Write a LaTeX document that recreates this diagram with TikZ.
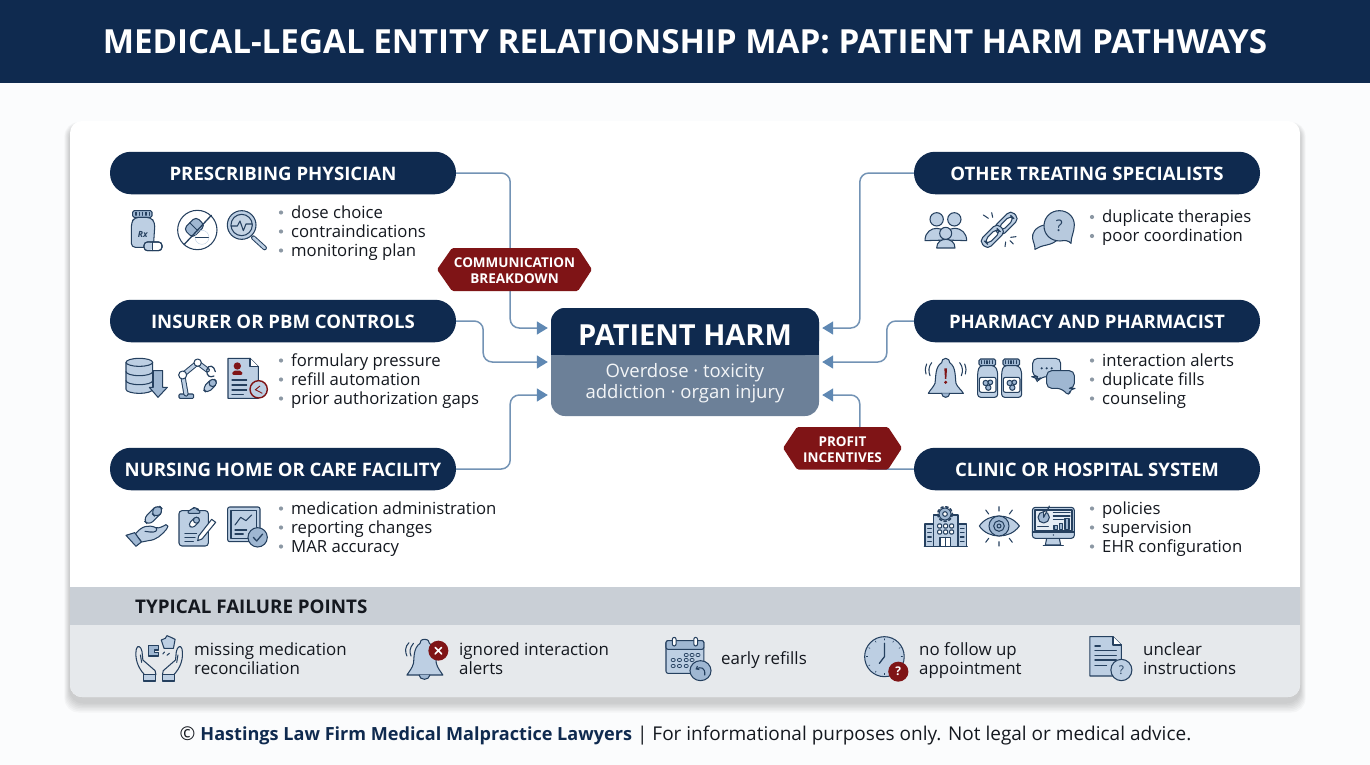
\documentclass[tikz,border=0pt]{standalone}
\usepackage{fontspec}
\usepackage{graphicx}
\setmainfont{Open Sans}
\usetikzlibrary{arrows.meta,calc}
\definecolor{navy}{HTML}{0F2A4F}
\definecolor{page}{HTML}{FBFCFD}
\definecolor{strip}{HTML}{C9CFD6}
\definecolor{stripl}{HTML}{E6E9EC}
\definecolor{hubl}{HTML}{6C8098}
\definecolor{conn}{HTML}{7393B5}
\definecolor{arrowc}{HTML}{5F88B3}
\definecolor{wine}{HTML}{7F1416}
\definecolor{icd}{HTML}{25405F}
\definecolor{icl}{HTML}{BDCFE3}
\definecolor{icm}{HTML}{9FB7D2}
\definecolor{txt}{HTML}{14181F}
\definecolor{bul}{HTML}{8C98A4}
\tikzset{
 zoomA/.style 2 args={x=0.33333pt,y=-0.33333pt,shift={(#1pt,-#2pt)}},
 ic/.style={draw=icd,fill=icl,line width=1.05pt,line join=round,line cap=round},
 icm/.style={ic,fill=icm},
 icw/.style={ic,fill=white},
 icn/.style={draw=icd,line width=1.05pt,line cap=round,line join=round},
 pill/.style={fill=navy,rounded corners=21pt,minimum width=346pt,minimum height=42.5pt,inner sep=0pt},
 pilltxt/.style={text=white,font=\fontsize{18.6}{20}\selectfont\bfseries,inner sep=0pt,yshift=-1pt},
 listtxt/.style={text=txt,font=\fontsize{16.7}{19}\selectfont,anchor=base west,inner sep=0pt},
 failtxt/.style={text=txt,font=\fontsize{16.9}{19}\selectfont,anchor=base west,inner sep=0pt},
 badgetxt/.style={text=white,font=\fontsize{13.5}{15}\selectfont\bfseries,anchor=base,inner sep=0pt},
 conline/.style={draw=conn,line width=1.5pt,rounded corners=9pt,-{Triangle[length=11pt,width=13pt,fill=arrowc,color=arrowc]}},
 badge/.style={fill=wine,rounded corners=1.5pt},
 glyph/.style={inner sep=0pt,font=\fontsize{8}{8}\selectfont},
}
\newcommand{\listitem}[4]{%
 \fill[bul] (#2-10,#3-5.5) circle (2.1);
 \node[listtxt] (#1) at (#2,#3) {#4};}
\newcommand{\failitem}[4]{\node[failtxt] (#1) at (#2,#3) {#4};}
% bottle in zoom coordinates: left x, top y
\newcommand{\smallbottle}[2]{%
 \begin{scope}[shift={(#1,#2)}]
 \draw[icm,rounded corners=1.5pt] (4,0) rectangle (54,20);
 \foreach \k in {12,20,28,36,44}{\draw[icn] (\k,5)--(\k,14);}
 \draw[ic,rounded corners=3pt] (6,20) -- (0,38) -- (0,115) -- (60,115) -- (60,38) -- (52,20) -- cycle;
 \draw[icn,fill=white,rounded corners=2pt] (5,55) rectangle (55,100);
 \draw[icm] (24,72) circle (8); \draw[icm] (38,70) circle (7); \draw[icm] (32,86) circle (8);
 \end{scope}}
\begin{document}
\begin{tikzpicture}[x=1pt,y=-1pt]
\useasboundingbox (0,0) rectangle (1370,765);
\fill[page] (0,0) rectangle (1370,765);
% header
\fill[navy] (0,0) rectangle (1370,83.5);
\node[text=white,font=\fontsize{33.2}{36}\selectfont\bfseries,anchor=base,inner sep=0pt] (title) at (685,53.5) {MEDICAL-LEGAL ENTITY RELATIONSHIP MAP: PATIENT HARM PATHWAYS};
% card shadow
\foreach \d in {14,12,10,8,6,4,2}{
 \fill[black,fill opacity=.028,rounded corners=14pt] (70-\d*.4,121+4-\d*.2) rectangle (1300+\d*.4,697+5+\d*.75);}
\fill[white,rounded corners=12pt] (70,121) rectangle (1300,697);
\begin{scope}
 \clip[rounded corners=12pt] (70,121) rectangle (1300,697);
 \fill[strip] (70,587) rectangle (1300,624.5);
 \fill[stripl] (70,624.5) rectangle (1300,697);
\end{scope}
\node[text=txt,font=\fontsize{18.8}{20}\selectfont\bfseries,anchor=base west,inner sep=0pt] (failhead) at (135,613) {TYPICAL FAILURE POINTS};
% pills
\node[pill] (p1) at (283,173) {};
\node[pill] (p2) at (283,321) {};
\node[pill] (p3) at (283,469) {};
\node[pill] (q1) at (1087,173) {};
\node[pill] (q2) at (1087,321) {};
\node[pill] (q3) at (1087,469) {};
% hub
\node[fill=hubl,rounded corners=14pt,minimum width=268pt,minimum height=108pt,inner sep=0pt] (hub) at (685,362) {};
\fill[navy,rounded corners=14pt] (551,355) -- (551,308) -- (819,308) -- (819,355) -- cycle;
\fill[navy] (551,340) rectangle (819,355);
% connectors
\draw[conline] (p1.east) -- ++(54,0) |- ([xshift=-3pt,yshift=34pt]hub.west);
\draw[conline] (p2.east) -- ++(27,0) |- ([xshift=-3pt]hub.west);
\draw[conline] (p3.east) -- ++(54,0) |- ([xshift=-3pt,yshift=-33pt]hub.west);
\draw[conline] (q1.west) -- ++(-54,0) |- ([xshift=3pt,yshift=34pt]hub.east);
\draw[conline] (q2.west) -- ++(-27,0) |- ([xshift=3pt]hub.east);
\draw[conline] (q3.west) -- ++(-54,0) |- ([xshift=3pt,yshift=-33pt]hub.east);
% hub text
\node[text=white,font=\fontsize{29}{30}\selectfont\bfseries,anchor=base,inner sep=0pt] (hubt) at (685,345) {PATIENT HARM};
\node[text=white!92!hubl,font=\fontsize{18.5}{22}\selectfont,anchor=base,inner sep=0pt] (hubs1) at (685,377) {Overdose · toxicity};
\node[text=white!92!hubl,font=\fontsize{18.5}{22}\selectfont,anchor=base,inner sep=0pt] (hubs2) at (685,398) {addiction · organ injury};
% badges
\fill[badge] (437,269.5) -- (452,248) -- (578,248) -- (592,269.5) -- (578,291) -- (452,291) -- cycle;
\node[badgetxt] (b1a) at (514.5,267) {COMMUNICATION};
\node[badgetxt] (b1b) at (514.5,283) {BREAKDOWN};
\fill[badge] (783,448) -- (797,427) -- (888,427) -- (902,448) -- (888,469.5) -- (797,469.5) -- cycle;
\node[badgetxt] (b2a) at (842.5,446) {PROFIT};
\node[badgetxt] (b2b) at (842.5,462) {INCENTIVES};
% pill labels
\node[pilltxt] (p1t) at (p1) {PRESCRIBING PHYSICIAN};
\node[pilltxt] (p2t) at (p2) {INSURER OR PBM CONTROLS};
\node[pilltxt] (p3t) at (p3) {NURSING HOME OR CARE FACILITY};
\node[pilltxt] (q1t) at (q1) {OTHER TREATING SPECIALISTS};
\node[pilltxt] (q2t) at (q2) {PHARMACY AND PHARMACIST};
\node[pilltxt] (q3t) at (q3) {CLINIC OR HOSPITAL SYSTEM};
% lists
\listitem{l11}{291}{218}{dose choice}
\listitem{l12}{291}{237}{contraindications}
\listitem{l13}{291}{256}{monitoring plan}
\listitem{l21}{291}{366}{formulary pressure}
\listitem{l22}{291}{385}{refill automation}
\listitem{l23}{291}{404}{prior authorization gaps}
\listitem{l31}{291}{514}{medication administration}
\listitem{l32}{291}{533}{reporting changes}
\listitem{l33}{291}{552}{MAR accuracy}
\listitem{r11}{1102}{222.5}{duplicate therapies}
\listitem{r12}{1102}{241.5}{poor coordination}
\listitem{r21}{1102}{366}{interaction alerts}
\listitem{r22}{1102}{385}{duplicate fills}
\listitem{r23}{1102}{404}{counseling}
\listitem{r31}{1102}{514}{policies}
\listitem{r32}{1102}{533}{supervision}
\listitem{r33}{1102}{552}{EHR configuration}
% failure items
\failitem{f1a}{194}{655}{missing medication}
\failitem{f1b}{194}{674}{reconciliation}
\failitem{f2a}{459}{655}{ignored interaction}
\failitem{f2b}{459}{674}{alerts}
\failitem{f3a}{721}{664.5}{early refills}
\failitem{f4a}{919}{655}{no follow up}
\failitem{f4b}{919}{674}{appointment}
\failitem{f5a}{1143}{655}{unclear}
\failitem{f5b}{1143}{674}{instructions}
% footer
\node[text=txt,font=\fontsize{19}{22}\selectfont,anchor=base,inner sep=0pt] (foot) at (685.5,740) {© {\fontsize{18.1}{22}\selectfont\bfseries\color{navy}Hastings Law Firm Medical Malpractice Lawyers} | For informational purposes only. Not legal or medical advice.};
%
% ----- icons, row 1/2 left -----
\begin{scope}[zoomA={100}{140}]
 % Rx bottle
 \draw[icm,rounded corners=1.5pt] (98,212) rectangle (156,232);
 \foreach \k in {108,118,128,138,148}{\draw[icn] (\k,217)--(\k,226);}
 \draw[ic,rounded corners=4pt] (104,232) -- (94,248) -- (94,322) -- (160,322) -- (165,248) -- (152,232) -- cycle;
 \node[glyph,text=icd,font=\fontsize{8.5}{9}\selectfont\itshape\bfseries] (rx) at (128,282) {Rx};
 \draw[icw,rounded corners=3.5pt] (132,306) rectangle (186,332);
 \draw[icl,fill=icl,rounded corners=3.5pt] (134,308) rectangle (158,330);
 \draw[icn,rounded corners=3.5pt] (132,306) rectangle (186,332);
 \draw[icn] (158,306)--(158,332);
 % no pill
 \draw[icw] (292,270) circle (59);
 \draw[icm,rounded corners=4pt,rotate around={45:(283,262)}] (257,243) rectangle (309,281);
 \draw[icn,rotate around={45:(283,262)}] (283,243)--(283,281);
 \draw[icl] (306,292) circle (21);
 \draw[icn] (287,292)--(325,292);
 \draw[icn,line width=1.3pt] (252,314)--(334,226);
 % magnifier
 \draw[icn,line width=4.6pt] (460,293)--(494,324);
 \draw[draw=icl,line width=2.6pt,line cap=round] (460,293)--(494,324);
 \draw[ic] (425,255) circle (43);
 \draw[icn,fill=icm!60!white] (425,255) circle (32);
 \draw[icn] (393,258)--(412,258)--(420,243)--(430,272)--(438,252)--(456,252);
 % database
 \draw[ic] (78,667) -- (78,748) arc (180:0:40 and 12) -- (158,667);
 \draw[ic] (118,667) ellipse (40 and 12);
 \draw[icn] (78,695) arc (180:0:40 and 12);
 \draw[icn] (78,722) arc (180:0:40 and 12);
 \draw[icm] (160,692) -- (188,692) -- (188,742) -- (202,742) -- (174,772) -- (148,742) -- (160,742) -- cycle;
 % robot arm
 \draw[icm,rounded corners=1pt] (237,762) rectangle (281,775);
 \draw[icn,line width=5.2pt] (258,762)--(248,705)--(293,668)--(322,690);
 \draw[draw=icl,line width=3.2pt,line cap=round,line join=round] (258,762)--(248,705)--(293,668)--(322,690);
 \draw[icw] (248,705) circle (12);
 \draw[icw] (293,668) circle (11);
 \draw[icn,line width=1.2pt] (320,690) .. controls (325,672) and (343,676) .. (346,695);
 \draw[icn,line width=1.2pt] (320,692) .. controls (320,708) and (330,714) .. (342,708);
 \draw[ic,rounded corners=5pt,rotate around={45:(330,737)}] (307,726) rectangle (353,748);
 \draw[icm,rounded corners=4pt,rotate around={45:(330,737)}] (330,726) rectangle (353,748);
 % doc with person
 \draw[ic] (384,655) -- (450,655) -- (475,680) -- (475,775) -- (384,775) -- cycle;
 \draw[icn,fill=white] (450,655) -- (450,680) -- (475,680);
 \fill[wine] (412,678) circle (11);
 \fill[wine,rounded corners=2pt] (396,705) -- (398,692) -- (426,692) -- (428,705) -- cycle;
 \draw[icn] (396,720)--(440,720) (396,735)--(440,735) (396,750)--(440,750) (396,763)--(430,763);
 \draw[draw=wine,fill=icl,line width=1.4pt] (476,748) circle (26);
 \draw[draw=wine,line width=.9pt] (465,750)--(480,738) (468,750)--(487,760);
\end{scope}
\begin{scope}[zoomA={100}{430}]
 % hand and capsule
 \draw[ic,rounded corners=6pt,rotate around={45:(160,255)}] (128,242) rectangle (192,268);
 \draw[icm,rounded corners=6pt,rotate around={45:(160,255)}] (160,242) rectangle (192,268);
 \draw[ic,fill=icl] (106,312) .. controls (125,288) and (145,283) .. (168,293) .. controls (178,296) and (190,288) .. (198,284) .. controls (206,284) and (205,292) .. (200,297) .. controls (185,315) and (170,330) .. (145,332) -- (125,336) -- cycle;
 \draw[icn] (168,293) .. controls (175,302) and (165,308) .. (150,306) -- (135,304);
 \draw[icm] (78,316) -- (104,308) -- (124,336) -- (108,349) -- cycle;
 % clipboard
 \draw[ic,rounded corners=3pt] (237,242) rectangle (325,348);
 \draw[icm,rounded corners=2pt] (262,250) -- (268,238) -- (280,238) -- (283,230) -- (290,238) -- (296,238) -- (302,250) -- cycle;
 \draw[icw,rounded corners=3.5pt,rotate around={45:(283,277)}] (265,268) rectangle (301,286);
 \draw[icm,rounded corners=3pt,rotate around={45:(283,277)}] (283,268) rectangle (301,286);
 \draw[icn] (255,310)--(290,310) (255,322)--(285,322) (255,334)--(280,334);
 \draw[icw] (296,318) -- (335,268) -- (347,277) -- (306,327) -- (293,332) -- cycle;
 % chart
 \draw[ic,rounded corners=2pt] (383,231) rectangle (480,335);
 \fill[icl] (393,241) rectangle (470,325);
 \draw[icn] (393,241) rectangle (470,325);
 \draw[icn] (405,285) -- (422,262) -- (438,272) -- (455,255);
 \draw[icn] (405,300)--(440,300) (405,312)--(430,312);
 \draw[icm] (473,322) circle (29);
 \draw[icn,line width=1.3pt] (460,322) -- (470,333) -- (488,312);
\end{scope}
% ----- right column
\begin{scope}[zoomA={900}{140}]
 % people
 \draw[ic] (75,302) .. controls (75,275) and (95,265) .. (110,265) .. controls (125,265) and (140,275) .. (142,300) -- cycle;
 \draw[ic] (135,300) .. controls (135,275) and (150,265) .. (163,265) .. controls (185,265) and (200,280) .. (200,302) -- cycle;
 \draw[ic] (110,238) circle (20);
 \draw[ic] (163,238) circle (20);
 \draw[ic] (110,324) .. controls (110,305) and (125,298) .. (137,298) .. controls (150,298) and (165,305) .. (165,324) -- cycle;
 \draw[ic] (137,280) circle (18);
 % broken chain
 \draw[icn,fill=icl,rounded corners=5pt,even odd rule,rotate around={45:(318,250)}] (280,232) rectangle (356,268) (291,242) rectangle (345,258);
 \draw[icn,fill=icl,rounded corners=5pt,even odd rule,rotate around={45:(277,289)}] (239,271) rectangle (315,307) (250,281) rectangle (304,297);
 \draw[icn] (250,225)--(265,235) (275,218)--(278,232) (332,292)--(348,290) (315,320)--(317,306) (340,312)--(330,302);
 % bubbles
 \draw[ic] (432,255) .. controls (405,262) and (395,280) .. (398,296) .. controls (400,308) and (405,315) .. (405,328) .. controls (415,322) and (425,318) .. (440,315) .. controls (455,312) and (470,305) .. (475,295) -- cycle;
 \draw[icm,fill=icm!75!white] (478,212) .. controls (505,212) and (523,232) .. (523,255) .. controls (523,275) and (513,290) .. (513,310) .. controls (505,302) and (498,300) .. (480,303) .. controls (450,303) and (432,282) .. (432,258) .. controls (432,232) and (452,212) .. (478,212) -- cycle;
 \node[glyph,text=icd,font=\fontsize{16}{16}\selectfont] (qq) at (478,257) {?};
 % bell
 \draw[ic] (137,655) .. controls (128,655) and (125,662) .. (125,668) .. controls (105,680) and (108,710) .. (105,730) .. controls (100,742) and (90,750) .. (85,760) -- (190,760) .. controls (185,750) and (172,742) .. (168,730) .. controls (165,710) and (168,680) .. (149,668) .. controls (149,662) and (146,655) .. (137,655) -- cycle;
 \draw[icm] (125,760) arc (180:0:12 and 12);
 \fill[wine] (133,685) -- (141,685) -- (139,717) -- (135,717) -- cycle;
 \fill[wine] (137,727) circle (5);
 \draw[icn] (95,668) .. controls (85,680) and (85,695) .. (90,707) (80,672) .. controls (75,685) and (75,695) .. (78,702);
 \draw[icn] (179,668) .. controls (189,680) and (189,695) .. (184,707) (194,672) .. controls (199,685) and (199,695) .. (196,702);
 % bottles
 \smallbottle{233}{657}
 \smallbottle{305}{657}
 % chat
 \draw[icm,fill=icl,rounded corners=5pt] (398,655) -- (482,655) -- (482,710) -- (425,710) -- (412,725) -- (410,710) -- (398,710) -- cycle;
 \draw[ic,fill=icm,rounded corners=5pt] (440,692) -- (523,692) -- (523,745) -- (510,745) -- (508,770) -- (485,745) -- (440,745) -- cycle;
 \fill[icd] (425,685) circle (3.5) (440,685) circle (3.5) (455,685) circle (3.5);
\end{scope}
\begin{scope}[zoomA={900}{430}]
 % hospital
 \draw[ic] (75,282) rectangle (102,350);
 \draw[ic] (172,282) rectangle (200,350);
 \draw[ic] (100,255) rectangle (174,350);
 \draw[icn,line width=1.3pt] (73,350)--(202,350);
 \draw[icm] (135,252) circle (18);
 \draw[icn,dash pattern=on 2.5pt off 2.5pt,line width=1.6pt] (135,252) circle (22);
 \draw[icw] (135,252) circle (7);
 \foreach \xx in {113,131,149}{\foreach \yy in {282,300}{\draw[icn,fill=white,rounded corners=1pt] (\xx,\yy) rectangle (\xx+12,\yy+12);}}
 \draw[icw] (120,322) rectangle (152,350);
 \draw[icn] (136,322)--(136,350);
 \foreach \yy in {295,308,321,334}{\draw[icn] (83,\yy)--(94,\yy) (181,\yy)--(192,\yy);}
 % eye
 \draw[ic] (238,288) .. controls (265,248) and (330,248) .. (358,288) .. controls (330,328) and (265,328) .. (238,288) -- cycle;
 \draw[icm] (297,288) circle (30);
 \draw[icn] (297,288) circle (16);
 \draw[icn] (297,288) circle (6);
 \draw[icn] (297,230)--(297,243) (257,240)--(266,252) (337,240)--(328,252) (297,335)--(297,348) (257,337)--(266,325) (337,337)--(328,325);
 % monitor
 \draw[icm,fill=icl] (440,325) -- (478,325) -- (482,345) -- (436,345) -- cycle;
 \draw[icn,line width=1.3pt] (430,346)--(490,346);
 \draw[ic,rounded corners=3pt] (397,232) rectangle (523,325);
 \draw[icn,fill=white!60!icl] (405,240) rectangle (516,302);
 \draw[icn] (397,306)--(523,306);
 \fill[icd] (460,315) circle (2.5);
 \draw[icm] (431,262) circle (17);
 \draw[icw] (431,262) -- (431,245) arc (90:0:17) -- cycle;
 \draw[icn] (460,248)--(510,248) (460,258)--(510,258) (460,268)--(490,268) (413,290)--(445,290);
 \draw[icm] (462,287) rectangle (472,298) (478,280) rectangle (488,298) (495,265) rectangle (507,298);
\end{scope}
% ----- failure icons (x scale of crop 2.45)
\begin{scope}[x=0.40816pt,y=-0.33333pt,shift={(60pt,-580pt)}]
 % hands
 \draw[icn] (207,284) .. controls (190,262) and (183,235) .. (187,207) .. controls (190,193) and (199,200) .. (201,215) -- (203,240) -- (233,272) -- (235,284);
 \draw[icn] (279,284) .. controls (296,262) and (303,235) .. (299,207) .. controls (296,193) and (287,200) .. (285,215) -- (283,240) -- (253,272) -- (251,284);
 \draw[icn] (197,225) -- (200,247) (289,225) -- (286,247);
 \draw[icm,fill=icl] (205,284) rectangle (235,303);
 \draw[icm,fill=icl] (251,284) rectangle (281,303);
 \draw[icm] (216,197) -- (242,197) -- (242,210) -- (232,210) -- (232,218) -- (242,218) -- (242,228) -- (216,228) -- cycle;
 \draw[ic] (248,180) -- (258,175) -- (262,167) -- (272,172) -- (282,178) -- (278,205) -- (255,205) -- cycle;
 \draw[icn] (252,222)--(256,216) (262,226)--(268,220);
 % bell x
 \draw[ic] (893,178) .. controls (885,178) and (882,184) .. (882,190) .. controls (865,205) and (868,235) .. (866,250) .. controls (863,265) and (855,275) .. (850,285) -- (938,285) .. controls (933,275) and (925,265) .. (922,250) .. controls (920,235) and (923,205) .. (905,190) .. controls (905,184) and (902,178) .. (893,178) -- cycle;
 \draw[icm] (880,285) arc (180:0:13 and 13);
 \draw[icn] (855,188) .. controls (845,200) and (845,215) .. (850,228) (866,190) .. controls (856,205) and (856,215) .. (860,228);
 \fill[wine] (927,212) ellipse (24.5 and 30);
 \draw[white,line width=1.6pt,line cap=round] (919,202)--(935,222) (935,202)--(919,222);
\end{scope}
\begin{scope}[x=0.42088pt,y=-0.33333pt,shift={(650pt,-580pt)}]
 % calendar
 \draw[ic,rounded corners=2pt] (38,182) rectangle (128,280);
 \draw[icm,rounded corners=2pt] (38,182) rectangle (128,208);
 \draw[icw,rounded corners=2pt] (53,172) rectangle (62,198);
 \draw[icw,rounded corners=2pt] (104,172) rectangle (113,198);
 \foreach \xx/\yy in {86/225,100/225,114/225,55/240,70/240,86/240,100/240,55/258,70/258,86/258}{\draw[icn,line width=.7pt] (\xx,\yy) ellipse (5 and 5);}
 \draw[icm] (120,272) ellipse (25 and 30);
 \draw[icn,-{Straight Barb[length=2.5pt,width=4pt]}] (130,285) .. controls (132,262) and (120,260) .. (108,268);
 % clock
 \draw[ic] (557,230) ellipse (47 and 60);
 \foreach \an in {30,60,...,360}{\draw[icn,line width=.6pt] ($(557,230)+(\an:43 and 54)$)--($(557,230)+(\an:40 and 50)$);}
 \draw[icn,line width=1.3pt] (545,250)--(557,230)--(557,190);
 \fill[wine] (590,275) ellipse (24 and 30);
 \node[glyph,text=white,font=\fontsize{12}{12}\selectfont\bfseries] (q4) at (590,273) {?};
 % doc question
 \draw[ic,fill=icl] (1045,170) -- (1100,170) -- (1120,195) -- (1120,288) -- (1045,288) -- cycle;
 \draw[icn,fill=white] (1100,170) -- (1100,195) -- (1120,195);
 \draw[icn] (1057,198)--(1070,198) (1057,212)--(1108,212) (1057,226)--(1108,226) (1057,240)--(1108,240) (1057,256)--(1085,256);
 \draw[icm,fill=icl] (1120,270) ellipse (25 and 32);
 \node[glyph,text=icd,font=\fontsize{12}{12}\selectfont] (q5) at (1120,270) {?};
\end{scope}
\end{tikzpicture}
\end{document}
